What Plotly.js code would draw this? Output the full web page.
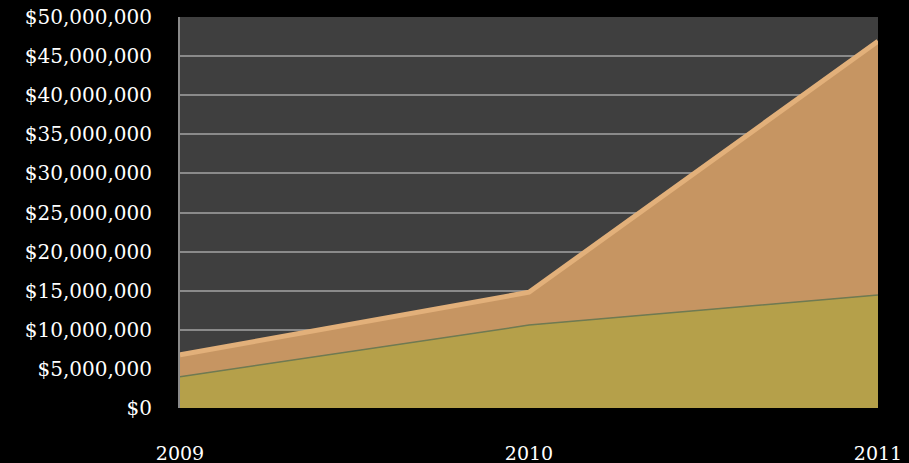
<!DOCTYPE html>
<html><head><meta charset="utf-8">
<script src="https://cdn.plot.ly/plotly-3.0.1.min.js"></script>
<style>html,body{margin:0;padding:0;background:#000;}</style>
</head><body><div id="chart" style="width:909px;height:463px;"></div>
<script>
const years = ["2009", "2010", "2011"];
const seriesA = [4000000, 10600000, 14450000];   // bottom (gold)
const seriesB = [2800000, 4200000, 32450000];    // top (tan), stacked
const yTickVals = [0,5000000,10000000,15000000,20000000,25000000,30000000,35000000,40000000,45000000,50000000];
const yTickText = ["$0","$5,000,000","$10,000,000","$15,000,000","$20,000,000","$25,000,000","$30,000,000","$35,000,000","$40,000,000","$45,000,000","$50,000,000"];

const traces = [
  {x: years, y: seriesA, type: "scatter", mode: "lines", stackgroup: "one",
   fillcolor: "#b5a04a", line: {color: "#6f7a52", width: 1.5}, hoverinfo: "skip"},
  {x: years, y: seriesB, type: "scatter", mode: "lines", stackgroup: "one",
   fillcolor: "#c69562", line: {color: "#e2b07a", width: 5}, hoverinfo: "skip"}
];
const layout = {
  width: 909, height: 463,
  paper_bgcolor: "#000000", plot_bgcolor: "#3f3f3f",
  margin: {l: 180, r: 31, t: 17, b: 55},
  showlegend: false,
  font: {family: "DejaVu Serif, serif", color: "#ffffff", size: 20},
  xaxis: {type: "category", range: [0, 2], showgrid: false, zeroline: false,
          ticks: "outside", ticklen: 28, tickcolor: "rgba(0,0,0,0)",
          tickfont: {size: 19, color: "#ffffff"}, showline: false},
  yaxis: {range: [0, 50000000], tickvals: yTickVals, ticktext: yTickText,
          showgrid: true, gridcolor: "#8a8a8a", gridwidth: 2, zeroline: false,
          ticks: "outside", ticklen: 22, tickcolor: "rgba(0,0,0,0)",
          showline: true, linecolor: "#8a8a8a", linewidth: 2,
          tickfont: {size: 20, color: "#ffffff"}}
};
Plotly.newPlot("chart", traces, layout, {staticPlot: true});
</script></body></html>
